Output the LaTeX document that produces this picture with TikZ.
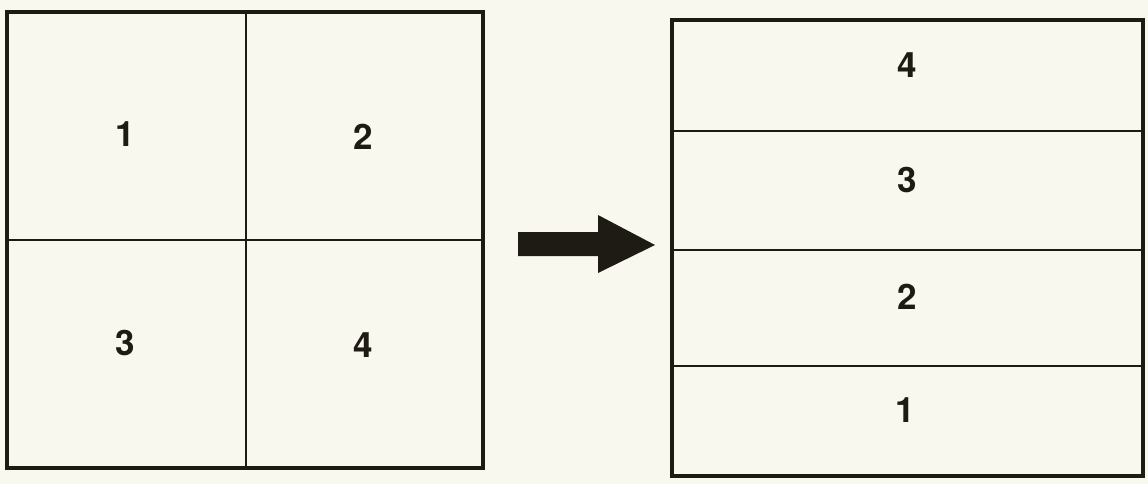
\documentclass[tikz,border=0pt]{standalone}
\usepackage{fontspec}
\setmainfont{TeX Gyre Heros}
\definecolor{paper}{HTML}{F8F8EE}
\definecolor{ink}{HTML}{1E1B15}
\begin{document}
\begin{tikzpicture}[x=1pt,y=-1pt,
  outer/.style={draw=ink,line width=4pt},
  inner/.style={draw=ink,line width=1.8pt},
  lbl/.style={font=\fontsize{35}{40}\selectfont\bfseries,text=ink,inner sep=0pt}]
\fill[paper] (0,0) rectangle (1148,484);
\useasboundingbox (0,0) rectangle (1148,484);
% left square
\coordinate (LTL) at (7,12);
\coordinate (LBR) at (483,468);
\draw[inner] (246,12) -- (246,468);
\draw[inner] (7,240) -- (483,240);
\draw[outer] (LTL) rectangle (LBR);
\node[lbl] (l1) at (125,134) {1};
\node[lbl] (l2) at (363,137) {2};
\node[lbl] (l3) at (125,343) {3};
\node[lbl] (l4) at (363,345) {4};
% arrow
\fill[ink] (518,232) -- (598,232) -- (598,215) -- (655,245) -- (598,273) -- (598,256) -- (518,256) -- cycle;
% right box
\coordinate (RTL) at (672,20);
\coordinate (RBR) at (1143,476);
\draw[inner] (672,131) -- (1143,131);
\draw[inner] (672,250) -- (1143,250);
\draw[inner] (672,366) -- (1143,366);
\draw[outer] (RTL) rectangle (RBR);
\node[lbl] (r4) at (907,65) {4};
\node[lbl] (r3) at (907,180) {3};
\node[lbl] (r2) at (907,297) {2};
\node[lbl] (r1) at (905,410) {1};
\end{tikzpicture}
\end{document}
